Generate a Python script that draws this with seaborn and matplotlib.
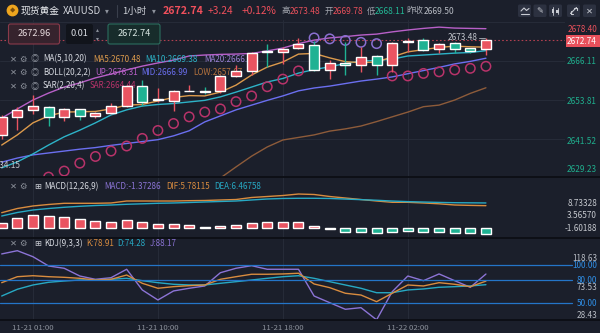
import numpy as np
import pandas as pd
import matplotlib
matplotlib.use("Agg")
import matplotlib.pyplot as plt
import seaborn as sns
from matplotlib.patches import FancyBboxPatch, Rectangle, Circle

# ---------------- data ----------------
opens = [2642.7, 2648.5, 2650.7, 2651.7, 2648.5, 2650.9, 2648.8, 2649.6, 2651.9, 2658.2,
         2653.7, 2653.5, 2656.5, 2656.6, 2656.7, 2661.4, 2663.1, 2669.1, 2668.9, 2670.1,
         2671.2, 2663.3, 2665.5, 2664.9, 2667.7, 2664.9, 2672.0, 2672.7, 2669.8, 2671.7,
         2670.1, 2669.78]
highs = [2649.0, 2651.5, 2655.4, 2652.0, 2651.4, 2651.1, 2650.1, 2652.9, 2658.4, 2660.1,
         2657.5, 2657.0, 2658.5, 2658.0, 2661.6, 2664.9, 2668.9, 2671.5, 2670.6, 2673.3,
         2672.4, 2666.4, 2672.0, 2670.6, 2668.0, 2672.1, 2673.3, 2673.3, 2671.8, 2672.0,
         2670.3, 2673.48]
lows = [2641.5, 2644.3, 2649.3, 2645.6, 2647.2, 2647.5, 2648.0, 2649.3, 2651.6, 2651.9,
        2653.3, 2650.4, 2656.5, 2655.7, 2656.0, 2661.0, 2661.7, 2664.3, 2665.2, 2669.8,
        2663.0, 2660.3, 2661.7, 2662.6, 2661.7, 2662.6, 2668.8, 2669.3, 2668.6, 2668.7,
        2668.7, 2668.11]
closes = [2648.5, 2650.7, 2651.9, 2648.5, 2650.9, 2648.8, 2649.8, 2651.9, 2658.2, 2653.3,
          2654.0, 2656.7, 2656.7, 2656.4, 2661.4, 2663.1, 2668.7, 2668.9, 2669.9, 2671.4,
          2663.3, 2665.4, 2665.0, 2667.3, 2664.9, 2671.9, 2672.2, 2669.6, 2671.5, 2669.8,
          2669.4, 2672.74]

ma5 = [2639.6, 2642.8, 2646.6, 2648.8, 2650.0, 2650.1, 2650.2, 2651.0, 2652.2, 2652.4,
       2653.5, 2654.6, 2655.2, 2655.1, 2656.3, 2658.5, 2661.7, 2664.2, 2665.8, 2668.3,
       2668.5, 2667.1, 2665.9, 2665.6, 2665.8, 2667.4, 2669.0, 2669.7, 2670.4, 2670.8,
       2670.6, 2670.48]
ma10 = [2632.4, 2634.3, 2636.8, 2639.6, 2642.2, 2644.3, 2646.6, 2649.1, 2650.7, 2651.9,
        2652.4, 2652.7, 2653.2, 2653.7, 2654.8, 2656.3, 2657.9, 2659.5, 2660.6, 2662.3,
        2663.4, 2664.3, 2665.3, 2666.1, 2666.3, 2666.7, 2667.7, 2668.0, 2668.3, 2668.6,
        2668.8, 2669.38]
boll_up = [2648.1, 2651.0, 2653.8, 2656.0, 2657.9, 2659.2, 2660.8, 2662.0, 2663.3, 2664.5,
           2665.5, 2666.4, 2667.7, 2668.0, 2668.2, 2668.3, 2668.5, 2669.3, 2670.2, 2671.6,
           2672.7, 2673.4, 2673.8, 2674.3, 2674.6, 2675.3, 2675.9, 2676.4, 2676.8, 2676.5,
           2676.4, 2676.31]
boll_mid = [2634.2, 2635.5, 2636.5, 2637.1, 2637.7, 2638.3, 2638.8, 2639.5, 2640.1, 2640.7,
            2641.3, 2642.5, 2644.1, 2646.9, 2648.8, 2650.7, 2652.2, 2653.7, 2655.1, 2656.7,
            2657.6, 2658.2, 2659.0, 2659.8, 2660.4, 2661.1, 2662.1, 2663.1, 2664.1, 2665.2,
            2666.0, 2666.99]
boll_low = [np.nan] * 13 + [2625.5, 2629.2, 2632.7, 2636.1, 2639.0, 2641.2, 2642.0, 2642.8,
                            2644.0, 2644.7, 2645.6, 2647.0, 2648.5, 2650.0, 2651.7, 2652.2,
                            2653.8, 2655.9, 2657.67]
sar = [np.nan, np.nan, np.nan, 2629.5, 2631.4, 2633.9, 2636.0, 2637.7, 2639.3, 2641.7,
       2644.2, 2646.4, 2648.5, 2650.0, 2651.0, 2653.3, 2655.1, 2658.0, 2660.4, 2663.0,
       2673.4, 2673.1, 2672.6, 2672.0, 2671.6, 2661.4, 2661.4, 2662.2, 2662.7, 2663.3,
       2663.8, 2664.44]

macd_hist = [1.47, 2.58, 3.42, 3.16, 2.84, 2.33, 1.90, 1.72, 2.15, 1.57,
             1.06, 1.06, 0.81, 0.46, 0.71, 0.89, 1.47, 1.57, 1.72, 1.57,
             0.58, -0.12, -0.81, -0.81, -1.22, -0.81, -0.63, -0.90, -0.90, -1.22,
             -1.22, -1.37286]
dif = [4.00, 5.06, 5.70, 6.08, 6.38, 6.38, 6.38, 6.46, 6.96, 6.96,
       6.96, 6.96, 7.04, 7.09, 7.22, 7.34, 7.85, 8.10, 8.35, 8.73,
       8.61, 8.10, 7.72, 7.34, 6.96, 6.63, 6.63, 6.46, 6.25, 5.95,
       5.85, 5.78115]
dea = [3.16, 4.05, 4.68, 5.06, 5.37, 5.62, 5.82, 5.95, 6.13, 6.25,
       6.38, 6.46, 6.58, 6.71, 6.84, 6.96, 7.22, 7.47, 7.60, 7.65,
       7.65, 7.60, 7.45, 7.30, 7.15, 6.95, 6.80, 6.70, 6.60, 6.53,
       6.50, 6.46758]

k_vals = [76.9, 84.7, 86.0, 84.7, 83.9, 82.6, 80.4, 81.3, 86.9, 76.1,
          69.6, 71.7, 73.0, 73.9, 81.3, 84.7, 87.9, 87.9, 88.3, 89.2,
          75.2, 70.4, 63.1, 60.8, 52.1, 63.1, 73.9, 72.6, 76.9, 74.8,
          71.7, 78.91]
d_vals = [59.5, 68.3, 73.9, 77.4, 79.1, 80.4, 80.4, 81.3, 82.6, 79.5,
          76.9, 74.8, 73.9, 73.9, 76.1, 78.2, 80.4, 82.6, 84.7, 86.0,
          82.6, 78.2, 73.9, 69.6, 63.8, 63.8, 67.4, 68.7, 70.9, 71.7,
          72.6, 74.28]
j_vals = [114.4, 118.63, 110.8, 98.7, 95.7, 85.6, 81.3, 83.4, 94.4, 67.4,
          54.3, 66.1, 69.6, 72.6, 89.9, 95.7, 99.1, 94.4, 94.4, 94.4,
          59.5, 50.8, 42.2, 44.3, 28.43, 65.1, 85.6, 79.5, 88.3, 79.5,
          70.9, 88.17]

time_labels = ["11-21 01:00", "11-21 10:00", "11-21 18:00", "11-22 02:00"]
time_label_idx = [2, 10, 18, 26]

price_grid = [2678.40, 2666.11, 2653.81, 2641.52, 2629.23]
macd_ticks = ["8.73328", "3.56570", "-1.60188"]
kdj_levels = [100.0, 80.0, 50.0]
last_price = 2672.74
range_high = 2673.48
range_low = 2634.15

# ---------------- style ----------------
sns.set_theme(style="dark")
plt.rcParams['font.family'] = ['Noto Sans CJK SC', 'DejaVu Sans']
plt.rcParams['axes.unicode_minus'] = False

W, H = 600, 333
BG = '#1b1f2b'
GRID = '#262b38'
UP = '#ea5461'
DOWN = '#1fb293'
C_MA5 = '#dc9a4c'
C_MA10 = '#2db3c8'
C_UP = '#b860c8'
C_MID = '#6b6ff0'
C_LOW = '#8d5b3a'
C_SAR_LO = '#b8336a'
C_SAR_HI = '#8a6fd0'
C_DIF = '#d98c3f'
C_DEA = '#27a9c4'
C_J = '#8c74d6'
C_KLINE = '#2475c8'
TXT = '#d8dbe2'
GRAY = '#8d929c'
ICON = '#c9ccd3'

fig = plt.figure(figsize=(W / 100, H / 100), dpi=100, facecolor=BG)

PX_LEFT, PX_RIGHT = 0, 565
STEP = 15.62
X0 = 1.7


def panel(y0, y1):
    a = fig.add_axes([PX_LEFT / W, 1 - y1 / H, (PX_RIGHT - PX_LEFT) / W, (y1 - y0) / H])
    a.set_facecolor(BG)
    a.set_xlim(-X0 / STEP, (PX_RIGHT - X0) / STEP)
    a.set_xticks([])
    a.set_yticks([])
    for s in a.spines.values():
        s.set_visible(False)
    for i in time_label_idx:
        a.axvline(i, color=GRID, lw=0.8, zorder=0)
    return a


def tidy(a):
    a.set_xlabel('')
    a.set_ylabel('')
    a.set_xticks([])
    a.set_yticks([])


idx = np.arange(len(closes))
df = pd.DataFrame({
    'i': idx, 'open': opens, 'high': highs, 'low': lows, 'close': closes,
    'ma5': ma5, 'ma10': ma10, 'up': boll_up, 'mid': boll_mid, 'low_b': boll_low,
    'sar': sar, 'hist': macd_hist, 'dif': dif, 'dea': dea,
    'k': k_vals, 'd': d_vals, 'j': j_vals,
})

# overlay in pixel coordinates
ov = fig.add_axes([0, 0, 1, 1], zorder=10)
ov.set_xlim(0, W)
ov.set_ylim(H, 0)
ov.axis('off')
ov.patch.set_alpha(0)

# ---------------- main price panel ----------------
ax = panel(20, 177)
ax.set_ylim(2672.74 - 137 / 3.17, 2672.74 + 20 / 3.17)
for p in price_grid:
    ax.axhline(p, color=GRID, lw=0.8, zorder=0)
ax.axhline(last_price, color='#b04050', lw=0.8, ls=(0, (1.5, 2)), zorder=1)

LFS = 5.8


def ltext(x, y, s, c, fs=LFS):
    ax.text(x, y, s, color=c, fontsize=fs, va='center', ha='left',
            transform=ov.transData, zorder=2.5)


for yy, items in [
    (59, [(43, "MA(5,10,20)", TXT), (93, "MA5:2670.48", C_MA5), (145, "MA10:2669.38", C_MA10),
          (204, "MA20:2666.99", '#9b82d6')]),
    (72.5, [(43, "BOLL(20,2,2)", TXT), (95, "UP:2676.31", C_UP), (141, "MID:2666.99", C_MID),
            (193, "LOW:2657.67", '#b7743e')]),
    (86, [(43, "SAR(2,20,4)", TXT), (90, "SAR:2664.44", C_SAR_LO)]),
]:
    ltext(9.5, yy, "✕", GRAY, 6.0)
    ltext(19.5, yy, "⚙", GRAY, 6.0)
    ltext(31, yy, "◎", GRAY, 6.0)
    for x, s, c in items:
        ltext(x, yy, s, c)

sns.lineplot(data=df, x='i', y='up', ax=ax, color=C_UP, lw=1.0, zorder=2)
sns.lineplot(data=df, x='i', y='mid', ax=ax, color=C_MID, lw=1.0, zorder=2)
sns.lineplot(data=df.dropna(subset=['low_b']), x='i', y='low_b', ax=ax, color=C_LOW, lw=1.0, zorder=2)
sns.lineplot(data=df, x='i', y='ma10', ax=ax, color=C_MA10, lw=1.0, zorder=2)
sns.lineplot(data=df, x='i', y='ma5', ax=ax, color=C_MA5, lw=1.0, zorder=2)

sar_df = df.dropna(subset=['sar']).copy()
sar_df['above'] = sar_df['sar'] > sar_df['high']
for above, col in [(False, C_SAR_LO), (True, C_SAR_HI)]:
    sub = sar_df[sar_df['above'] == above]
    sns.scatterplot(data=sub, x='i', y='sar', ax=ax, marker='o', s=46,
                    facecolor='none', edgecolor=col, linewidth=1.1, zorder=2.2)

o = df['open'].values
c = df['close'].values
colors = [UP if cc >= oo else DOWN for oo, cc in zip(o, c)]
ax.vlines(idx, df['low'], df['high'], colors=colors, lw=1.0, zorder=3)
body_lo = np.minimum(o, c)
body_h = np.maximum(np.abs(c - o), 0.3)
ax.bar(idx, body_h, bottom=body_lo, width=0.64, color=colors, zorder=4)
tidy(ax)

# ---------------- MACD panel ----------------
ax2 = panel(177, 238)
ax2.set_ylim(-2.41, 13.04)
hcol = [UP if v >= 0 else DOWN for v in macd_hist]
hcol[21] = '#1c6f62'
ax2.bar(idx, macd_hist, width=0.64, color=hcol, zorder=2)
sns.lineplot(data=df, x='i', y='dif', ax=ax2, color=C_DIF, lw=1.0, zorder=3)
sns.lineplot(data=df, x='i', y='dea', ax=ax2, color=C_DEA, lw=1.0, zorder=3)
tidy(ax2)

# ---------------- KDJ panel ----------------
ax3 = panel(238, 320)
ax3.set_ylim(28.2, 135.2)
sns.lineplot(data=df, x='i', y='j', ax=ax3, color=C_J, lw=1.0, zorder=2)
sns.lineplot(data=df, x='i', y='d', ax=ax3, color=C_DEA, lw=1.0, zorder=3)
sns.lineplot(data=df, x='i', y='k', ax=ax3, color=C_DIF, lw=1.0, zorder=4)
tidy(ax3)


# ---------------- overlay texts ----------------
def t(x, y, s, col=TXT, fs=5.8, ha='left', **kw):
    ov.text(x, y, s, color=col, fontsize=fs, ha=ha, va='center', **kw)


# KDJ reference levels run under the axis labels
for lv in kdj_levels:
    yy = 265 + (100 - lv) * 0.766
    ov.plot([0, 572], [yy, yy], color=C_KLINE, lw=0.9, zorder=0)

# panel separators
for yy in (177, 238, 320):
    ov.plot([0, W], [yy, yy], color='#0c0e14', lw=1.3)

# header
ov.add_patch(Circle((12.5, 10.5), 5.2, color='#eea51e'))
t(12.5, 10.8, "◆", '#7a4c0a', 3.8, ha='center')
t(20.5, 11, "现货黄金", '#eceef2', 7.0)
t(62.5, 11, "XAUUSD", '#cfd2d9', 7.0)
t(104.5, 11, "▾", GRAY, 5.5)
ov.plot([116.5, 116.5], [5, 17], color='#3a3f4c', lw=0.8)
t(122.5, 11, "1小时", '#cfd2d9', 6.9)
t(151.5, 11, "▾", GRAY, 5.5)
t(163, 11, "2672.74", '#f0505c', 7.6, fontweight='bold')
t(208, 11, "+3.24", '#f0505c', 7.3)
t(241.5, 11, "+0.12%", '#f0505c', 7.3)
t(281.5, 11, "高", '#a3a7b0', 6.1)
t(290, 11, "2673.48", '#e8505b', 6.1)
t(325, 11, "开", '#a3a7b0', 6.1)
t(333, 11, "2669.78", '#e8505b', 6.1)
t(366.5, 11, "低", '#a3a7b0', 6.1)
t(375, 11, "2668.11", '#22b895', 6.1)
t(406.5, 11, "昨收", '#a3a7b0', 6.1)
t(424, 11, "2669.50", '#b8bcc4', 6.1)

# toolbar buttons
btn_x = [518, 533.5, 549, 567, 583]
for bx in btn_x:
    ov.add_patch(FancyBboxPatch((bx, 4.5), 13, 12.5, boxstyle="round,pad=0,rounding_size=1.5",
                                fc='#2c3140', ec='none'))
# indicator button
ov.plot([521, 524, 526.5, 529], [11, 8, 10.5, 8.5], color=ICON, lw=0.8)
ov.plot([521, 529], [13.5, 13.5], color=ICON, lw=0.8)
# drawing button
t(btn_x[1] + 6.5, 10.8, "✎", ICON, 6.0, ha='center')
# chart type button (two mini candles)
ov.plot([553, 553], [7, 15], color=ICON, lw=0.6)
ov.add_patch(Rectangle((551.8, 8.5), 2.4, 4.5, fc=ICON, ec='none'))
ov.plot([557.5, 557.5], [8, 14], color=ICON, lw=0.6)
ov.add_patch(Rectangle((556.3, 9.5), 2.4, 3.0, fc=ICON, ec='none'))
# fullscreen button
ov.plot([570.5, 576.5], [13.5, 7.5], color=ICON, lw=0.8)
ov.plot([570.5, 570.5, 572.8], [11.2, 13.5, 13.5], color=ICON, lw=0.8)
ov.plot([574.2, 576.5, 576.5], [7.5, 7.5, 9.8], color=ICON, lw=0.8)
# close button
t(btn_x[4] + 6.5, 10.8, "✕", ICON, 6.0, ha='center')

# order boxes
ov.add_patch(FancyBboxPatch((8.5, 24), 51, 20, boxstyle="round,pad=0,rounding_size=2",
                            fc='#36232d', ec='#8a3a4a', lw=0.8))
t(34, 34, "2672.96", '#e6dadd', 6.6, ha='center')
ov.add_patch(FancyBboxPatch((66, 24), 27, 20, boxstyle="round,pad=0,rounding_size=2",
                            fc='#11141b', ec='none'))
t(70.5, 34, "0.01", '#d8dbe2', 6.6)
t(97.5, 30, "▴", GRAY, 4.2, ha='center')
t(97.5, 38.5, "▾", GRAY, 4.2, ha='center')
ov.add_patch(FancyBboxPatch((108, 24), 52, 20, boxstyle="round,pad=0,rounding_size=2",
                            fc='#172c2b', ec='#2b6e5e', lw=0.8))
t(134, 34, "2672.74", '#d8e6e2', 6.6, ha='center')

AFS = 5.9
# price axis labels
t(597, 30, f"{price_grid[0]:.2f}", '#e8505b', AFS, ha='right')
ov.add_patch(Rectangle((565.5, 35), 34, 12, fc='#e8505b', ec='none'))
t(597, 41, f"{last_price:.2f}", '#ffffff', AFS, ha='right')
for p, yy in zip(price_grid[1:], [62, 102, 141, 170]):
    t(597, yy, f"{p:.2f}", '#1fae8d', AFS, ha='right')

# range high / low marks
t(478, 38, f"{range_high:.2f}", '#c3c6cd', AFS, ha='right')
ov.plot([479, 485], [38, 38], color='#9a9ea6', lw=0.7)
t(21, 165, f"{range_low:.2f}", '#c3c6cd', AFS, ha='right')

# MACD / KDJ legends
for yy, items in [
    (186.5, [(44, "MACD(12,26,9)", TXT), (104, "MACD:-1.37286", C_J),
             (166, "DIF:5.78115", C_DIF), (214, "DEA:6.46758", C_DEA)]),
    (243.5, [(44, "KDJ(9,3,3)", TXT), (86, "K:78.91", C_DIF),
             (117, "D:74.28", C_DEA), (150, "J:88.17", C_J)]),
]:
    t(9.5, yy, "✕", GRAY, 6.0)
    t(19.5, yy, "⚙", GRAY, 6.0)
    t(34, yy, "⊞", ICON, 6.0)
    for x, s, col in items:
        t(x, yy, s, col, LFS)

for s, yy in zip(macd_ticks, [203.5, 216, 228.5]):
    t(597, yy, s, '#c5c8ce', AFS, ha='right')

for s, yy, col in [("118.63", 258.5, '#b8bcc4'), ("100.00", 266, '#2f8ee6'),
                   ("80.00", 280.5, '#2f8ee6'), ("73.53", 288, '#b8bcc4'),
                   ("50.00", 303.5, '#2f8ee6'), ("28.43", 316, '#b8bcc4')]:
    t(597, yy, s, col, AFS, ha='right')

# time axis
for i, s in zip(time_label_idx, time_labels):
    t(X0 + STEP * i, 327.5, s, GRAY, 5.6, ha='center')

fig.savefig("out.png", dpi=100, facecolor=BG)
